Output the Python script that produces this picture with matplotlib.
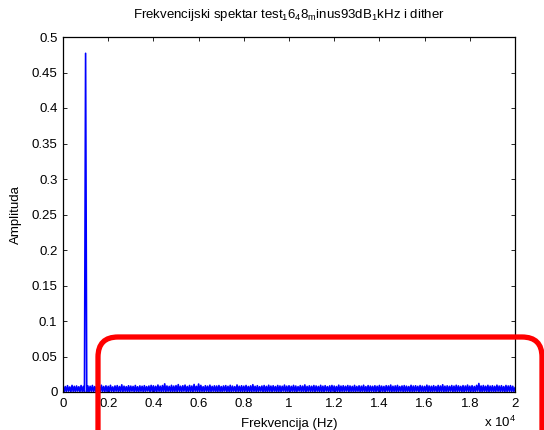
import numpy as np
import matplotlib
matplotlib.use("Agg")
import matplotlib.pyplot as plt
from matplotlib.patches import FancyBboxPatch
from matplotlib.transforms import IdentityTransform

plt.rcParams['font.family'] = ['Liberation Sans', 'DejaVu Sans']
plt.rcParams['mathtext.fontset'] = 'custom'
plt.rcParams['mathtext.rm'] = 'Liberation Sans'
plt.rcParams['mathtext.it'] = 'Liberation Sans'
plt.rcParams['mathtext.default'] = 'regular'

title = r'Frekvencijski spektar test$_1$6$_4$8$_\mathrm{m}$inus93dB$_1$kHz i dither'
xlabel = 'Frekvencija (Hz)'
ylabel = 'Amplituda'
x_ticks = [0, 2000, 4000, 6000, 8000, 10000, 12000, 14000, 16000, 18000, 20000]
x_tick_labels = ['0', '0.2', '0.4', '0.6', '0.8', '1', '1.2', '1.4', '1.6', '1.8', '2']
y_ticks = [0, 0.05, 0.1, 0.15, 0.2, 0.25, 0.3, 0.35, 0.4, 0.45, 0.5]
y_tick_labels = ['0', '0.05', '0.1', '0.15', '0.2', '0.25', '0.3', '0.35', '0.4', '0.45', '0.5']
f_max = 20000

amplitude = [
    0.0084, 0.0006, 0.0077, 0.0002, 0.0089, 0.0011, 0.0071, 0.0004, 0.0093, 0.0008, 0.0080, 0.0001, 0.0085, 0.0012, 0.0074, 0.0003, 0.0091, 0.0007, 0.0079, 0.0005,
    0.4770, 0.0006, 0.0086, 0.0002, 0.0081, 0.0010, 0.0092, 0.0001, 0.0076, 0.0009, 0.0088, 0.0004, 0.0083, 0.0002, 0.0095, 0.0008, 0.0078, 0.0003, 0.0087, 0.0006,
    0.0080, 0.0002, 0.0094, 0.0009, 0.0072, 0.0004, 0.0085, 0.0011, 0.0090, 0.0001, 0.0077, 0.0007, 0.0101, 0.0003, 0.0082, 0.0010, 0.0075, 0.0005, 0.0088, 0.0002,
    0.0083, 0.0012, 0.0079, 0.0004, 0.0092, 0.0008, 0.0074, 0.0001, 0.0086, 0.0011, 0.0081, 0.0003, 0.0089, 0.0006, 0.0076, 0.0013, 0.0084, 0.0002, 0.0093, 0.0009,
    0.0087, 0.0005, 0.0080, 0.0002, 0.0098, 0.0010, 0.0082, 0.0004, 0.0091, 0.0007, 0.0115, 0.0003, 0.0085, 0.0011, 0.0079, 0.0006, 0.0094, 0.0001, 0.0083, 0.0008,
    0.0090, 0.0004, 0.0104, 0.0010, 0.0081, 0.0002, 0.0088, 0.0012, 0.0097, 0.0006, 0.0078, 0.0003, 0.0092, 0.0008, 0.0084, 0.0001, 0.0106, 0.0011, 0.0080, 0.0005,
    0.0112, 0.0002, 0.0093, 0.0009, 0.0075, 0.0004, 0.0089, 0.0011, 0.0082, 0.0001, 0.0096, 0.0007, 0.0079, 0.0010, 0.0087, 0.0003, 0.0084, 0.0006, 0.0091, 0.0008,
    0.0077, 0.0001, 0.0085, 0.0012, 0.0090, 0.0004, 0.0080, 0.0007, 0.0094, 0.0002, 0.0083, 0.0011, 0.0076, 0.0005, 0.0099, 0.0009, 0.0081, 0.0002, 0.0088, 0.0006,
    0.0082, 0.0011, 0.0092, 0.0003, 0.0078, 0.0008, 0.0086, 0.0001, 0.0103, 0.0010, 0.0080, 0.0004, 0.0089, 0.0006, 0.0075, 0.0012, 0.0084, 0.0003, 0.0091, 0.0005,
    0.0079, 0.0002, 0.0095, 0.0009, 0.0083, 0.0004, 0.0088, 0.0011, 0.0077, 0.0001, 0.0092, 0.0007, 0.0085, 0.0005, 0.0081, 0.0012, 0.0097, 0.0002, 0.0082, 0.0010,
    0.0088, 0.0004, 0.0080, 0.0010, 0.0093, 0.0002, 0.0084, 0.0006, 0.0076, 0.0013, 0.0090, 0.0003, 0.0083, 0.0009, 0.0100, 0.0001, 0.0079, 0.0011, 0.0087, 0.0005,
    0.0081, 0.0008, 0.0091, 0.0003, 0.0085, 0.0011, 0.0078, 0.0002, 0.0094, 0.0006, 0.0082, 0.0004, 0.0089, 0.0012, 0.0076, 0.0005, 0.0086, 0.0001, 0.0092, 0.0010,
    0.0084, 0.0003, 0.0077, 0.0007, 0.0096, 0.0002, 0.0083, 0.0010, 0.0088, 0.0005, 0.0080, 0.0012, 0.0091, 0.0003, 0.0085, 0.0009, 0.0079, 0.0004, 0.0093, 0.0006,
    0.0078, 0.0011, 0.0087, 0.0001, 0.0082, 0.0009, 0.0095, 0.0004, 0.0076, 0.0007, 0.0090, 0.0002, 0.0084, 0.0011, 0.0080, 0.0003, 0.0088, 0.0006, 0.0081, 0.0010,
    0.0092, 0.0003, 0.0083, 0.0008, 0.0079, 0.0001, 0.0089, 0.0012, 0.0085, 0.0005, 0.0098, 0.0004, 0.0081, 0.0009, 0.0086, 0.0002, 0.0093, 0.0006, 0.0077, 0.0011,
    0.0085, 0.0005, 0.0090, 0.0002, 0.0082, 0.0010, 0.0077, 0.0004, 0.0094, 0.0007, 0.0084, 0.0001, 0.0088, 0.0012, 0.0080, 0.0003, 0.0091, 0.0009, 0.0083, 0.0002,
    0.0079, 0.0010, 0.0096, 0.0004, 0.0085, 0.0006, 0.0081, 0.0001, 0.0089, 0.0011, 0.0078, 0.0005, 0.0092, 0.0003, 0.0084, 0.0009, 0.0102, 0.0001, 0.0082, 0.0008,
    0.0087, 0.0004, 0.0080, 0.0012, 0.0091, 0.0002, 0.0083, 0.0007, 0.0095, 0.0003, 0.0086, 0.0010, 0.0079, 0.0005, 0.0090, 0.0001, 0.0084, 0.0011, 0.0097, 0.0004,
    0.0082, 0.0009, 0.0089, 0.0002, 0.0078, 0.0006, 0.0093, 0.0012, 0.0120, 0.0004, 0.0085, 0.0001, 0.0091, 0.0010, 0.0081, 0.0005, 0.0094, 0.0003, 0.0083, 0.0010,
    0.0088, 0.0002, 0.0080, 0.0007, 0.0096, 0.0011, 0.0084, 0.0004, 0.0089, 0.0008, 0.0077, 0.0001, 0.0092, 0.0006, 0.0085, 0.0010, 0.0090, 0.0003, 0.0081, 0.0007,
    0.0060,
]
frequency = np.linspace(0, f_max, len(amplitude))

W, H = 544, 430
fig = plt.figure(figsize=(W / 100, H / 100), dpi=100)
ax = fig.add_axes([63 / W, 1 - 392 / H, (515 - 63) / W, (392 - 37) / H])

ax.plot(frequency, amplitude, color=(0, 0, 1), lw=1.2)
ax.set_xlim(0, f_max)
ax.set_ylim(0, 0.5)
ax.set_xticks(x_ticks)
ax.set_xticklabels(x_tick_labels)
ax.set_yticks(y_ticks)
ax.set_yticklabels(y_tick_labels)
fs = 9.5
ax.tick_params(direction='in', length=3, width=0.6, top=True, right=True,
               labelsize=fs, pad=4, colors='black')
for s in ax.spines.values():
    s.set_linewidth(0.9)
    s.set_color('black')

ax.set_title(title, fontsize=fs, pad=14)
ax.set_xlabel(xlabel, fontsize=fs, labelpad=6)
ax.set_ylabel(ylabel, fontsize=fs, labelpad=7)
fig.text(484 / W, 1 - 415 / H, r'x 10$^{4}$', fontsize=fs, ha='left', va='top')

rect = FancyBboxPatch((98, -80), 444, (H - 337) + 80,
                      boxstyle='round,pad=0,rounding_size=20',
                      transform=IdentityTransform(), fill=False,
                      edgecolor=(1, 0, 0), linewidth=3.8, clip_on=False)
fig.add_artist(rect)

fig.savefig('out.png', dpi=100)
